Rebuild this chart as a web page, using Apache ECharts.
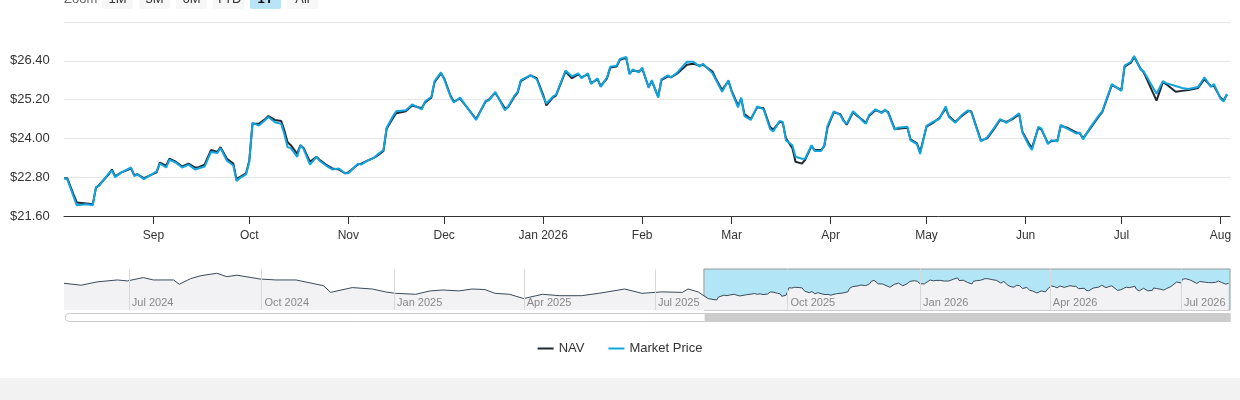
<!DOCTYPE html>
<html><head><meta charset="utf-8">
<script src="https://cdn.jsdelivr.net/npm/echarts@6/dist/echarts.min.js"></script>
<style>html,body{margin:0;padding:0;background:#fff}#c{width:1240px;height:400px}</style>
</head><body><div id="c"></div>
<script>
const dates = ['2025-08-04','2025-08-05','2025-08-07','2025-08-08','2025-08-11','2025-08-13','2025-08-14','2025-08-15','2025-08-18','2025-08-19','2025-08-20','2025-08-22','2025-08-25','2025-08-26','2025-08-27','2025-08-29',
'2025-09-02','2025-09-03','2025-09-05','2025-09-06','2025-09-08','2025-09-10','2025-09-12','2025-09-14','2025-09-15','2025-09-17','2025-09-19','2025-09-21','2025-09-22','2025-09-24','2025-09-26','2025-09-27','2025-09-28','2025-09-30',
'2025-10-01','2025-10-02','2025-10-04','2025-10-06','2025-10-07','2025-10-09','2025-10-11','2025-10-12','2025-10-13','2025-10-14','2025-10-16','2025-10-17','2025-10-18','2025-10-20','2025-10-22','2025-10-23','2025-10-25','2025-10-27','2025-10-29','2025-10-31',
'2025-11-01','2025-11-04','2025-11-05','2025-11-07','2025-11-09','2025-11-10','2025-11-12','2025-11-13','2025-11-15','2025-11-16','2025-11-19','2025-11-21','2025-11-24','2025-11-25','2025-11-27','2025-11-28','2025-11-30',
'2025-12-01','2025-12-03','2025-12-04','2025-12-06','2025-12-11','2025-12-14','2025-12-15','2025-12-17','2025-12-20','2025-12-21','2025-12-23','2025-12-24','2025-12-25','2025-12-28','2025-12-30',
'2026-01-01','2026-01-02','2026-01-04','2026-01-05','2026-01-08','2026-01-10','2026-01-12','2026-01-13','2026-01-15','2026-01-16','2026-01-18','2026-01-19','2026-01-21','2026-01-22','2026-01-24','2026-01-25','2026-01-27','2026-01-28','2026-01-29','2026-01-31',
'2026-02-01','2026-02-03','2026-02-04','2026-02-06','2026-02-07','2026-02-09','2026-02-10','2026-02-12','2026-02-15','2026-02-17','2026-02-19','2026-02-20','2026-02-23','2026-02-24','2026-02-26','2026-02-28',
'2026-03-01','2026-03-03','2026-03-04','2026-03-05','2026-03-07','2026-03-09','2026-03-11','2026-03-13','2026-03-14','2026-03-16','2026-03-17','2026-03-18','2026-03-20','2026-03-21','2026-03-23','2026-03-24','2026-03-26','2026-03-27','2026-03-29','2026-03-30','2026-03-31',
'2026-04-02','2026-04-04','2026-04-05','2026-04-06','2026-04-08','2026-04-09','2026-04-11','2026-04-12','2026-04-13','2026-04-15','2026-04-17','2026-04-18','2026-04-19','2026-04-21','2026-04-22','2026-04-25','2026-04-26','2026-04-28','2026-04-29',
'2026-05-01','2026-05-03','2026-05-05','2026-05-07','2026-05-08','2026-05-10','2026-05-12','2026-05-14','2026-05-15','2026-05-18','2026-05-20','2026-05-22','2026-05-24','2026-05-26','2026-05-28','2026-05-30','2026-05-31',
'2026-06-02','2026-06-03','2026-06-05','2026-06-06','2026-06-08','2026-06-09','2026-06-11','2026-06-12','2026-06-14','2026-06-17','2026-06-18','2026-06-19','2026-06-21','2026-06-24','2026-06-25','2026-06-28',
'2026-07-01','2026-07-02','2026-07-04','2026-07-05','2026-07-07','2026-07-08','2026-07-12','2026-07-14','2026-07-15','2026-07-18','2026-07-20','2026-07-22','2026-07-25','2026-07-27','2026-07-29','2026-07-30',
'2026-08-01','2026-08-02','2026-08-03'];
const marketPrice = [22.77,22.74,22.20,21.93,21.96,21.93,22.50,22.53,22.92,23.01,22.80,22.95,23.10,22.83,22.89,22.74,
22.98,23.22,23.10,23.34,23.25,23.10,23.19,23.04,23.07,23.13,23.58,23.55,23.70,23.31,23.16,22.68,22.77,22.89,
23.28,24.48,24.40,24.57,24.66,24.50,24.45,24.12,23.73,23.70,23.43,23.79,23.67,23.19,23.43,23.31,23.16,23.04,23.07,22.92,
22.92,23.22,23.19,23.31,23.40,23.49,23.64,24.33,24.69,24.84,24.87,25.05,24.90,25.14,25.29,25.77,26.04,
25.83,25.29,25.11,25.26,24.57,25.17,25.17,25.44,24.87,24.99,25.32,25.44,25.80,25.95,25.83,
25.29,25.08,25.29,25.35,26.10,25.92,26.01,25.86,26.01,25.68,25.86,25.59,25.89,26.22,26.25,26.46,26.52,25.98,26.13,26.04,
26.19,25.56,25.80,25.26,25.83,25.95,25.89,26.04,26.37,26.37,26.22,26.31,26.01,25.83,25.44,25.80,
25.44,24.96,25.26,24.69,24.57,24.99,24.90,24.30,24.21,24.54,24.51,23.94,23.79,23.43,23.37,23.37,23.79,23.61,23.61,23.79,24.39,
24.84,24.72,24.54,24.45,24.84,24.75,24.54,24.45,24.72,24.90,24.78,24.90,24.78,24.27,24.33,24.36,23.94,23.82,23.52,
24.39,24.51,24.60,24.99,24.66,24.48,24.72,24.87,24.81,23.91,24.03,24.30,24.60,24.48,24.63,24.78,24.18,
23.79,23.64,24.36,24.30,23.82,23.94,23.91,24.42,24.30,24.15,24.18,23.97,24.30,24.72,24.84,25.68,
25.47,26.25,26.37,26.55,26.13,26.07,25.38,25.77,25.71,25.62,25.56,25.53,25.59,25.89,25.59,25.68,
25.23,25.14,25.38];
const nav = [22.77,22.77,22.26,22.02,21.99,21.96,22.47,22.56,22.89,23.04,22.83,22.95,23.07,22.86,22.89,22.77,
22.95,23.25,23.16,23.37,23.28,23.13,23.22,23.10,23.10,23.19,23.64,23.58,23.73,23.37,23.22,22.74,22.80,22.92,
23.31,24.45,24.45,24.60,24.69,24.57,24.54,24.24,23.88,23.79,23.52,23.79,23.70,23.28,23.43,23.34,23.19,23.07,23.04,22.92,
22.95,23.19,23.22,23.31,23.40,23.46,23.61,24.30,24.63,24.78,24.84,25.02,24.93,25.11,25.26,25.74,26.01,
25.86,25.32,25.14,25.23,24.60,25.14,25.20,25.41,24.93,24.96,25.29,25.41,25.77,25.95,25.86,
25.35,25.02,25.26,25.32,26.07,25.86,25.98,25.89,25.98,25.71,25.83,25.62,25.86,26.19,26.22,26.43,26.49,26.01,26.10,26.07,
26.16,25.59,25.77,25.29,25.80,25.92,25.89,26.01,26.28,26.31,26.25,26.28,26.07,25.86,25.50,25.77,
25.47,25.02,25.23,24.75,24.60,24.96,24.93,24.36,24.27,24.51,24.48,24.00,23.70,23.28,23.22,23.34,23.76,23.64,23.64,23.76,24.33,
24.81,24.75,24.57,24.42,24.81,24.72,24.57,24.48,24.69,24.87,24.81,24.87,24.81,24.30,24.30,24.33,23.97,23.85,23.58,
24.36,24.48,24.63,24.93,24.69,24.51,24.69,24.84,24.84,23.94,24.00,24.27,24.57,24.51,24.60,24.75,24.21,
23.85,23.70,24.33,24.27,23.85,23.91,23.94,24.39,24.33,24.18,24.15,24.00,24.27,24.69,24.81,25.65,
25.50,26.22,26.34,26.52,26.16,26.04,25.17,25.74,25.68,25.44,25.47,25.50,25.56,25.83,25.62,25.62,
25.26,25.17,25.35];
const historyDates = ['2024-05-17','2024-05-29','2024-06-09','2024-06-23','2024-06-30','2024-07-11','2024-07-18','2024-08-01','2024-08-05','2024-08-13','2024-08-20','2024-08-31','2024-09-07','2024-09-14','2024-09-30','2024-10-11','2024-10-25','2024-11-13','2024-11-18','2024-12-03','2024-12-17','2024-12-26','2025-01-02','2025-01-16','2025-01-26','2025-02-04','2025-02-15','2025-02-24','2025-03-05','2025-03-12','2025-03-22','2025-04-01','2025-04-14','2025-04-26','2025-05-11','2025-05-23','2025-06-10','2025-06-22','2025-07-06','2025-07-20','2025-07-24','2025-07-31'];
const historyValues = [25.4,25.0,25.7,26.1,25.9,26.6,26.1,26.1,25.2,26.4,27.0,27.5,26.8,27.1,26.3,26.1,26.1,24.9,23.5,24.5,24.2,23.6,23.3,23.1,23.8,24.0,23.8,24.2,24.1,23.3,23.1,22.2,23.1,22.8,22.8,23.3,24.2,23.3,23.6,23.5,24.2,23.6];
const yTicks = [21.6,22.8,24.0,25.2,26.4];
const zoomButtons = ['1M','3M','6M','YTD','1Y','All'];
const navTicks = ['2024-07-01','2024-10-01','2025-01-01','2025-04-01','2025-07-01','2025-10-01','2026-01-01','2026-04-01','2026-07-01'];

const mainMP = dates.map((d,i)=>[d,marketPrice[i]]);
const mainNav = dates.map((d,i)=>[d,nav[i]]);
const navData = historyDates.map((d,i)=>[d,historyValues[i]]).concat(mainMP);
const chart = echarts.init(document.getElementById('c'));
const F = 'Liberation Sans, Arial, sans-serif';
const graphics = [{type:'text',x:64,y:-1,style:{text:'Zoom',fill:'#666',font:'13px '+F,textVerticalAlign:'middle'}}];
zoomButtons.forEach((b,i)=>{
  const x = 102 + i*37, sel = b==='1Y';
  graphics.push({type:'rect',shape:{x:x,y:-12,width:31,height:21,r:2},style:{fill:sel?'#b7e4f6':'#f7f7f7'}});
  graphics.push({type:'text',x:x+15.5,y:-1,style:{text:b,fill:sel?'#000':'#333',font:(sel?'bold ':'')+'13px '+F,textAlign:'center',textVerticalAlign:'middle'}});
});
graphics.push({type:'rect',shape:{x:0,y:378,width:1240,height:22},style:{fill:'#f2f2f2'},z:-1});
const gridBase = {outerBoundsMode:'none',containLabel:false};
chart.setOption({
  animation:false,
  textStyle:{fontFamily:F},
  legend:{bottom:40,left:'center',itemWidth:16,itemHeight:2,icon:'rect',itemGap:24,textStyle:{color:'#333',fontSize:13},data:['NAV','Market Price']},
  grid:[Object.assign({left:64,right:10,top:22,height:194},gridBase),Object.assign({left:64,right:10,top:269,height:41},gridBase),Object.assign({left:64,right:10,top:269,height:41},gridBase)],
  xAxis:[
    {type:'time',gridIndex:0,min:'2025-08-04',max:'2026-08-04',minInterval:28*864e5,maxInterval:31*864e5,
     axisLine:{lineStyle:{color:'#333'}},axisTick:{show:true,length:8,lineStyle:{color:'#333'}},splitLine:{show:false},
     axisLabel:{color:'#333',fontSize:12,margin:14,formatter:{year:'{MMM} {yyyy}',month:'{MMM}',day:''},hideOverlap:true}},
    {type:'time',gridIndex:1,min:'2024-05-17',max:'2026-08-04',
     axisLine:{show:false},axisTick:{show:false},splitLine:{show:false},axisLabel:{show:false},
     axisPointer:{show:false}},
    {type:'time',gridIndex:2,min:'2024-05-17',max:'2026-08-04',show:false}
  ],
  yAxis:[
    {type:'value',gridIndex:0,min:21.6,max:27.6,interval:1.2,
     axisLabel:{color:'#333',fontSize:13,margin:54,align:'left',formatter:v=>yTicks.some(t=>Math.abs(t-v)<1e-6)?'$'+v.toFixed(2):''},
     splitLine:{lineStyle:{color:'#e6e6e6'}},axisLine:{show:false},axisTick:{show:false}},
    {type:'value',gridIndex:1,min:19.8,max:28.4,show:false},
    {type:'value',gridIndex:2,min:19.8,max:28.4,show:false}
  ],
  dataZoom:[{type:'slider',xAxisIndex:2,filterMode:'none',startValue:'2025-08-04',endValue:'2026-08-04',top:313,height:9,left:64,right:10,
    showDataShadow:false,showDetail:false,brushSelect:false,backgroundColor:'#fff',borderColor:'#ccc',borderRadius:5,fillerColor:'#cccccc',
    handleSize:0,moveHandleSize:0,handleStyle:{opacity:0},dataBackground:{lineStyle:{opacity:0},areaStyle:{opacity:0}}}],
  graphic:graphics,
  series:[
    {name:'NAV',type:'line',data:mainNav,showSymbol:false,lineStyle:{width:2,color:'#1f2833'},itemStyle:{color:'#1f2833'},xAxisIndex:0,yAxisIndex:0},
    {name:'Market Price',type:'line',data:mainMP,showSymbol:false,lineStyle:{width:2,color:'#12a4dd'},itemStyle:{color:'#12a4dd'},xAxisIndex:0,yAxisIndex:0},
    {name:'nav-bg',type:'line',data:navData,showSymbol:false,xAxisIndex:1,yAxisIndex:1,lineStyle:{width:1,color:'#3a4a5a'},areaStyle:{color:'#f2f2f4',opacity:1},
     markArea:{silent:true,itemStyle:{color:'rgba(102,204,238,0.5)',borderColor:'#999',borderWidth:1},data:[[{xAxis:'2025-08-04'},{xAxis:'2026-08-04'}]]},
     markLine:{silent:true,symbol:'none',lineStyle:{color:'#d8d8d8',type:'solid',width:1},
       label:{show:true,position:'insideStartTop',distance:[3,2],color:'#888',fontSize:11,rotate:0,align:'left',
         formatter:p=>{const d=new Date(p.value);return ['Jan','Feb','Mar','Apr','May','Jun','Jul','Aug','Sep','Oct','Nov','Dec'][d.getUTCMonth()]+' '+d.getUTCFullYear();}},
       data:navTicks.map(t=>({xAxis:t}))},z:1},
    {name:'scroll',type:'line',data:navData,showSymbol:false,xAxisIndex:2,yAxisIndex:2,lineStyle:{opacity:0},silent:true}
  ]
});
</script></body></html>
